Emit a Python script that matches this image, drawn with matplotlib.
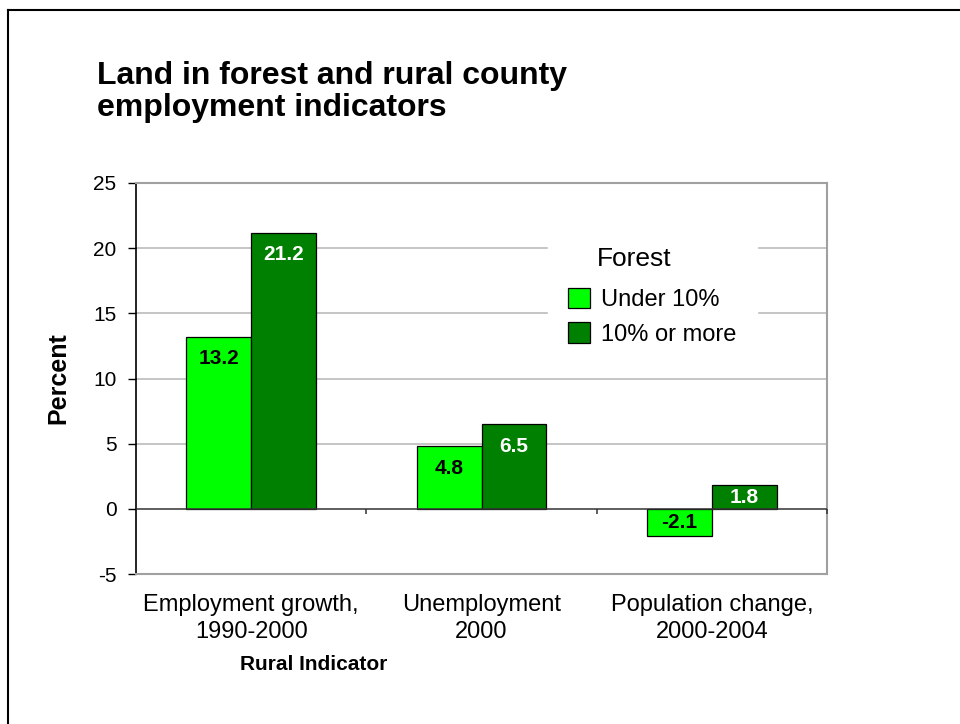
import matplotlib
matplotlib.use("Agg")
import matplotlib.pyplot as plt
from matplotlib.lines import Line2D
import numpy as np

plt.rcParams['font.family'] = ['Liberation Sans', 'DejaVu Sans']

categories = ["Employment growth,\n1990-2000", "Unemployment\n2000", "Population change,\n2000-2004"]
under_10 = [13.2, 4.8, -2.1]
ten_or_more = [21.2, 6.5, 1.8]
series_names = ["Under 10%", "10% or more"]
yticks = [-5, 0, 5, 10, 15, 20, 25]

fig = plt.figure(figsize=(9.6, 7.24), dpi=100)
ax = fig.add_axes([136/960, 1-574/724, (827-136)/960, (574-183)/724])

x = np.arange(len(categories))
w = 0.282
c_light = "#00FF00"
c_dark = "#008000"

ax.bar(x - w/2, under_10, w, color=c_light, edgecolor="black", linewidth=0.9, label=series_names[0], zorder=3)
ax.bar(x + w/2, ten_or_more, w, color=c_dark, edgecolor="black", linewidth=0.9, label=series_names[1], zorder=3)

def lab_y(v):
    off = 1.7
    if v >= 0:
        return max(v - off, v/2)
    return min(v + off, v/2)

for xi, v in zip(x - w/2, under_10):
    ax.text(xi, lab_y(v), f"{v:.1f}", ha="center", va="center", fontsize=15, fontweight="bold", color="black", zorder=5)
for xi, v in zip(x + w/2, ten_or_more):
    ax.text(xi, lab_y(v), f"{v:.1f}", ha="center", va="center", fontsize=15, fontweight="bold", color="white", zorder=5)

ax.set_xlim(-0.5, len(categories) - 0.5)
ax.set_ylim(-5, 25)
ax.set_yticks(yticks)
ax.set_yticklabels([str(t) for t in yticks], fontsize=15)
ax.set_xticks(x)
ax.set_xticklabels(categories, fontsize=17, linespacing=1.3)
ax.tick_params(axis="x", length=0, pad=14.5)
ax.tick_params(axis="y", length=6, width=1, color="black", direction="out", pad=8)

for g in [5, 10, 15, 20]:
    ax.axhline(g, color="#c0c0c0", linewidth=1.3, zorder=1)
ax.axhline(0, color="#333333", linewidth=1.1, zorder=4)
# category boundary ticks on the zero line
ax.vlines([0.5, 1.5, 2.5], 0, -0.38, color="#333333", linewidth=1.1, zorder=4, clip_on=False)

for s in ["top", "right", "bottom"]:
    ax.spines[s].set_color("#a0a0a0")
    ax.spines[s].set_linewidth(1.5)
ax.spines["left"].set_color("black")
ax.spines["left"].set_linewidth(1.2)

leg = ax.legend(title="Forest", loc="upper left", bbox_to_anchor=((548-136)/691, (574-227)/391),
                fontsize=17, title_fontsize=19, frameon=True, fancybox=False,
                handlelength=0.93, handleheight=0.93, handletextpad=0.47, borderpad=0.85,
                labelspacing=0.48, borderaxespad=0)
try:
    leg._legend_box.sep = 0.48 * 17 + 4.0
except Exception:
    pass
leg.get_title().set_x(-18)
leg.get_frame().set_edgecolor("white")
leg.get_frame().set_facecolor("white")
leg.get_frame().set_alpha(1)
leg.set_zorder(6)

fig.text(97/960, 1-92/724, "Land in forest and rural county\nemployment indicators",
         fontsize=23, fontweight="bold", ha="left", va="center", linespacing=1.05)
fig.text(58/960, 1-378/724, "Percent", fontsize=18, fontweight="bold", rotation=90, ha="center", va="center")
fig.text(314/960, 1-664/724, "Rural Indicator", fontsize=15, fontweight="bold", ha="center", va="center")

# figure frame (left and top edges)
fig.add_artist(Line2D([8/960, 8/960], [0, 1-10/724], transform=fig.transFigure, color="black", linewidth=1.5))
fig.add_artist(Line2D([8/960, 1], [1-10/724, 1-10/724], transform=fig.transFigure, color="black", linewidth=1.5))

fig.savefig("out.png", dpi=100)
